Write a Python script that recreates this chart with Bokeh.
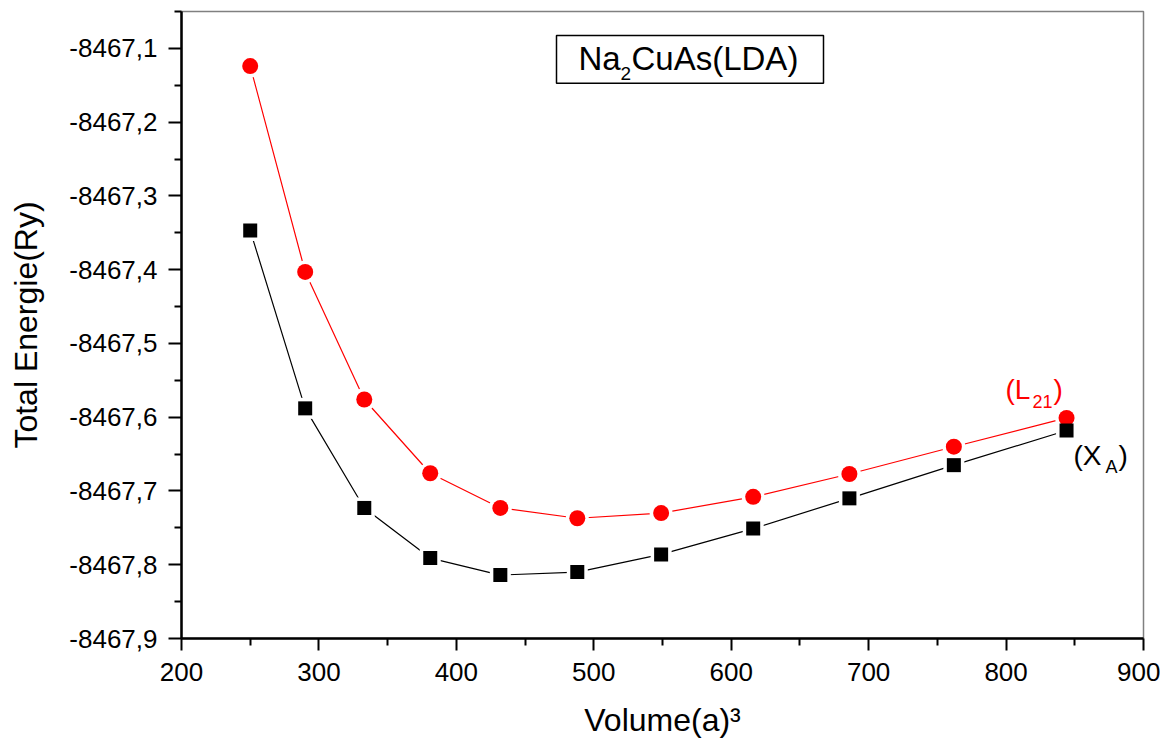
from bokeh.plotting import figure
from bokeh.models import (Range1d, FixedTicker, CustomJSTickFormatter, Label,
                          BoxAnnotation, ColumnDataSource)
from bokeh.embed import file_html
from bokeh.resources import INLINE

# ---- data ----
volume = [250, 290, 333, 381, 432, 488, 549, 616, 686, 762, 844]
energy_L21 = [-8467.124, -8467.403, -8467.576, -8467.676, -8467.723, -8467.737,
              -8467.730, -8467.708, -8467.677, -8467.640, -8467.601]
energy_XA = [-8467.347, -8467.588, -8467.723, -8467.791, -8467.814, -8467.810,
             -8467.786, -8467.751, -8467.710, -8467.665, -8467.618]
x_ticks = [200, 300, 400, 500, 600, 700, 800, 900]
x_minor = [250, 350, 450, 550, 650, 750, 850]
y_ticks = [-8467.9, -8467.8, -8467.7, -8467.6, -8467.5, -8467.4, -8467.3, -8467.2, -8467.1]
y_minor = [-8467.85, -8467.75, -8467.65, -8467.55, -8467.45, -8467.35, -8467.25,
           -8467.15, -8467.05]

X0, X1 = 200, 900
Y0, Y1 = -8467.9, -8467.05
FONT = "Liberation Sans"

W, H = 1160, 740
# frame geometry (canvas pixels)
FL, FR, FT, FB = 181, 1143, 11, 640


def px2x(px):
    return X0 + (px - FL) * (X1 - X0) / (FR - FL)


def px2y(py):
    return Y0 + (FB - py) * (Y1 - Y0) / (FB - FT)


p = figure(width=W, height=H, output_backend="svg", toolbar_location=None,
           x_range=Range1d(X0, X1), y_range=Range1d(Y0, Y1),
           min_border_left=FL, min_border_right=W - FR,
           min_border_top=FT, min_border_bottom=H - FB)

p.xgrid.visible = False
p.ygrid.visible = False
p.background_fill_color = "white"
p.border_fill_color = "white"
p.outline_line_color = "#808080"
p.outline_line_width = 1.5

for ax in (p.xaxis[0], p.yaxis[0]):
    ax.axis_line_width = 2.5
    ax.axis_line_color = "black"
    ax.major_tick_line_width = 2
    ax.minor_tick_line_width = 2
    ax.major_tick_in = 0
    ax.minor_tick_in = 0
    ax.major_label_text_font = FONT
    ax.major_label_text_font_size = "26px"
    ax.major_label_text_color = "black"
    ax.axis_label_text_font = FONT
    ax.axis_label_text_font_style = "normal"
    ax.axis_label_text_font_size = "32px"
    ax.axis_label_text_color = "black"

p.xaxis.ticker = FixedTicker(ticks=x_ticks, minor_ticks=x_minor)
p.yaxis.ticker = FixedTicker(ticks=y_ticks, minor_ticks=y_minor)
p.xaxis.major_tick_out = 12
p.xaxis.minor_tick_out = 7
p.yaxis.major_tick_out = 13
p.yaxis.minor_tick_out = 7
p.xaxis.major_label_standoff = 12
p.yaxis.major_label_standoff = 11
p.xaxis.axis_label_standoff = 18
p.yaxis.axis_label_standoff = 22
p.yaxis.formatter = CustomJSTickFormatter(code="return tick.toFixed(1).replace('.', ',');")
p.xaxis.formatter = CustomJSTickFormatter(code="return tick.toFixed(0);")
p.xaxis.axis_label = "Volume(a)³"
p.yaxis.axis_label = "Total Energie(Ry)"

src = ColumnDataSource(dict(v=volume, l21=energy_L21, xa=energy_XA))

p.line("v", "l21", source=src, line_color="red", line_width=1.2)
p.line("v", "xa", source=src, line_color="black", line_width=1.2)
p.scatter("v", "l21", source=src, marker="circle", size=23, fill_color="white",
          line_color=None)
p.scatter("v", "xa", source=src, marker="square", size=21, fill_color="white",
          line_color=None)
p.scatter("v", "l21", source=src, marker="circle", size=16, fill_color="red",
          line_color=None)
p.scatter("v", "xa", source=src, marker="square", size=14, fill_color="black",
          line_color=None)

# title box
p.add_layout(BoxAnnotation(left=px2x(556), right=px2x(823), top=px2y(35), bottom=px2y(83),
                           fill_color=None, fill_alpha=0, line_color="black",
                           line_alpha=1.0, line_width=1.5))


def lab(txt, px, py, size, color="black"):
    p.add_layout(Label(x=px2x(px), y=px2y(py), text=txt, text_font=FONT,
                       text_font_size=f"{size}px", text_color=color,
                       text_align="left", text_baseline="alphabetic"))


lab("Na", 578, 58, 33)
lab("2", 620, 73, 19)
lab("CuAs(LDA)", 631, 58, 33)

lab("(L", 1005, 390, 28, "red")
lab("21", 1032, 402, 18, "red")
lab(")", 1053, 390, 28, "red")

lab("(X", 1073, 456, 28)
lab("A", 1105, 468, 18)
lab(")", 1118, 456, 28)

open("out.html", "w").write(file_html(p, INLINE))
